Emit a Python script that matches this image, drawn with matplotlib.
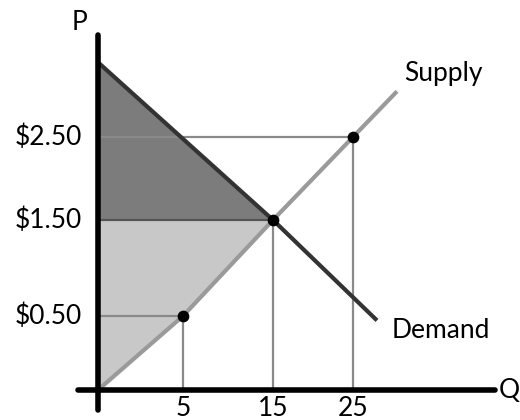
import numpy as np
import matplotlib
matplotlib.use("Agg")
import matplotlib.pyplot as plt

# --- DATA ---
supply_q = [0, 5, 15, 25, 30.5]
supply_p = [0, 0.5, 1.5, 2.5, 3.05]
demand_q = [0, 15, 28]
demand_p = [3.4, 1.5, 0.47]
points_q = [5, 15, 25]
points_p = [0.50, 1.50, 2.50]
price_labels = ["$0.50", "$1.50", "$2.50"]
qty_labels = ["5", "15", "25"]
eq_q, eq_p = 15, 1.5
demand_top = 3.4

# --- LAYOUT: the hand-drawn axes are not evenly spaced, so map values to pixels piecewise ---
Q_KNOTS, Q_PIX = [0, 5, 15, 25], [98, 183, 273, 353]
P_KNOTS, P_PIX = [0, 0.5, 1.5, 2.5], [30, 104, 200, 283]
W, H = 520, 420


def piecewise(knots, pix):
    k = np.asarray(knots, float)
    p = np.asarray(pix, float)
    s_lo = (p[1] - p[0]) / (k[1] - k[0])
    s_hi = (p[-1] - p[-2]) / (k[-1] - k[-2])

    def fwd(v):
        v = np.asarray(v, float)
        out = np.interp(v, k, p)
        out = np.where(v < k[0], p[0] + (v - k[0]) * s_lo, out)
        return np.where(v > k[-1], p[-1] + (v - k[-1]) * s_hi, out)

    def inv(x):
        x = np.asarray(x, float)
        out = np.interp(x, p, k)
        out = np.where(x < p[0], k[0] + (x - p[0]) / s_lo, out)
        return np.where(x > p[-1], k[-1] + (x - p[-1]) / s_hi, out)

    return fwd, inv


qf, qi = piecewise(Q_KNOTS, Q_PIX)
pf, pi = piecewise(P_KNOTS, P_PIX)

plt.rcParams['font.family'] = ['Lato', 'DejaVu Sans']

fig = plt.figure(figsize=(W / 100, H / 100), dpi=100)
ax = fig.add_axes([0, 0, 1, 1])
ax.set_xscale('function', functions=(qf, qi))
ax.set_yscale('function', functions=(pf, pi))
ax.set_xlim(float(qi(0)), float(qi(W)))
ax.set_ylim(float(pi(0)), float(pi(H)))
ax.axis('off')

# surplus areas (producer side follows the supply curve up to equilibrium)
ax.fill([0, 0, eq_q], [demand_top, eq_p, eq_p], color='#7c7c7c', lw=0, zorder=1)
ps_q = [q for q in supply_q if q <= eq_q]
ps_p = [p for q, p in zip(supply_q, supply_p) if q <= eq_q]
ax.fill([0] + ps_q[::-1], [eq_p] + ps_p[::-1], color='#c8c8c8', lw=0, zorder=1)

# guide lines to the axes
for q, p in zip(points_q, points_p):
    c = '#555555' if q == eq_q else '#8a8a8a'
    ax.plot([0, q], [p, p], color=c, lw=1.6, zorder=2)
    ax.plot([q, q], [0, p], color='#8a8a8a', lw=1.6, zorder=2)

ax.plot(supply_q, supply_p, color='#9a9a9a', lw=3, solid_capstyle='butt', zorder=3)
ax.plot(demand_q, demand_p, color='#333333', lw=3, solid_capstyle='butt', zorder=4)
ax.scatter(points_q, points_p, s=55, color='black', zorder=5)

# axes
ax.plot([qi(78), qi(495)], [0, 0], color='black', lw=4, solid_capstyle='round', zorder=6)
ax.plot([0, 0], [pi(H - 410), pi(H - 35)], color='black', lw=4, solid_capstyle='round', zorder=6)

fs = 19
for lab, p in zip(price_labels, points_p):
    ax.text(qi(82), p, lab, ha='right', va='center', fontsize=fs)
for lab, q in zip(qty_labels, points_q):
    ax.text(q, pi(H - 396), lab, ha='center', va='top', fontsize=fs)
ax.text(qi(80), pi(H - 23), "P", ha='center', va='center', fontsize=fs)
ax.text(qi(499), 0, "Q", ha='left', va='center', fontsize=fs)
ax.text(qi(404), pi(H - 74), "Supply", ha='left', va='center', fontsize=fs)
ax.text(qi(392), pi(H - 330), "Demand", ha='left', va='center', fontsize=fs)

fig.savefig("out.png", dpi=100)
